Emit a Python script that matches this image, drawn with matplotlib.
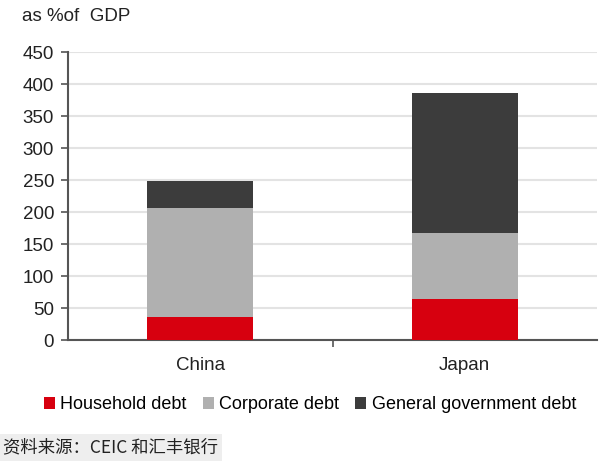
import matplotlib
matplotlib.use("Agg")
import matplotlib.pyplot as plt
from matplotlib.patches import Patch

categories = ["China", "Japan"]
household = [36, 65]
corporate = [170, 103]
government = [43, 219]
series_names = ["Household debt", "Corporate debt", "General government debt"]
colors = ["#d7000f", "#b0b0b0", "#3c3c3c"]
yticks = [0, 50, 100, 150, 200, 250, 300, 350, 400, 450]

plt.rcParams['font.family'] = ['Liberation Sans', 'Noto Sans CJK SC', 'DejaVu Sans']
FS = 13.5

fig = plt.figure(figsize=(6.08, 4.66), dpi=100)
ax = fig.add_axes([0.112, 0.270, 0.870, 0.618])

x = list(range(len(categories)))
w = 0.4
bottom2 = [a + b for a, b in zip(household, corporate)]
ax.bar(x, household, width=w, color=colors[0], zorder=3)
ax.bar(x, corporate, width=w, bottom=household, color=colors[1], zorder=3)
ax.bar(x, government, width=w, bottom=bottom2, color=colors[2], zorder=3)

ax.set_xlim(-0.5, 1.5)
ax.set_ylim(0, 450)
ax.set_yticks(yticks)
ax.tick_params(axis='y', labelsize=FS, direction='out', length=5, width=1.2, color='#555555', pad=5, labelcolor='#222222')
ax.set_xticks([0.5])
ax.set_xticklabels([''])
ax.tick_params(axis='x', direction='out', length=5, width=1.2, color='#555555')
for i, c in enumerate(categories):
    ax.text(i, -40, c, ha='center', va='center', fontsize=FS, color='#222222')

ax.grid(axis='y', color='#e3e3e3', linewidth=1.5, zorder=0)
for s in ['top', 'right']:
    ax.spines[s].set_visible(False)
ax.spines['left'].set_color('#555555')
ax.spines['left'].set_linewidth(1.5)
ax.spines['bottom'].set_color('#555555')
ax.spines['bottom'].set_linewidth(1.5)

fig.text(0.036, 0.965, "as %of  GDP", fontsize=FS, color='#222222', va='center', ha='left')

handles = [Patch(facecolor=c, edgecolor='none') for c in colors]
fig.legend(handles, series_names, loc='center', bbox_to_anchor=(0.51, 0.131), ncol=3,
           frameon=False, fontsize=13, handlelength=0.6, handleheight=0.6,
           handletextpad=0.3, columnspacing=0.9)

fig.text(0.005, 0.040, "资料来源：CEIC 和汇丰银行", fontsize=12.5, color='#222222',
         va='center', ha='left', family=['Noto Sans CJK SC', 'DejaVu Sans'],
         bbox=dict(facecolor='#eeeeee', edgecolor='none', pad=3))

fig.savefig("out.png", dpi=100)
